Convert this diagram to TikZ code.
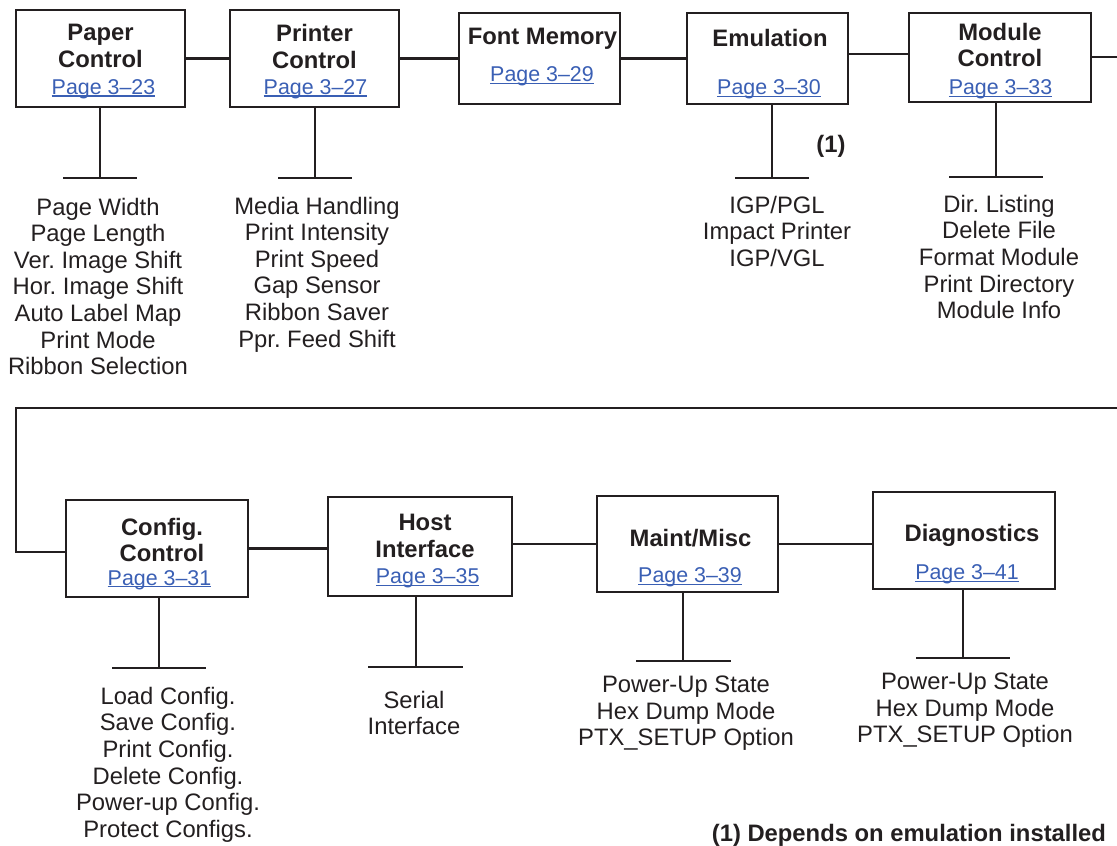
\documentclass[tikz,border=0pt]{standalone}
\usepackage{fontspec}
\setmainfont{Liberation Sans}
\frenchspacing
\definecolor{linkblue}{RGB}{58,95,180}
\definecolor{inkgray}{RGB}{35,31,32}
\newcommand{\pagelink}[1]{{\color{linkblue}\setbox0=\hbox{#1}\rlap{\rule[-1.2pt]{\wd0}{0.6pt}}\box0}}
\begin{document}
\begin{tikzpicture}[x=0.5pt, y=-0.5pt, line width=1.1pt, color=inkgray,
    menubox/.style={draw, rectangle, inner sep=0pt},
    boxtitle/.style={font=\bfseries\fontsize{11.9}{13.3}\selectfont, align=center, anchor=north, inner sep=0pt},
    pagelnk/.style={font=\fontsize{10.7}{12}\selectfont, anchor=base, inner sep=0pt},
    itemlist/.style={font=\fontsize{11.9}{13.3}\selectfont, align=center, anchor=north, inner sep=0pt}]
    \useasboundingbox (0,0) rectangle (1117,845);

    % top row
    \node[menubox, minimum width=84.5pt, minimum height=48.5pt] (paper) at (100.5,58.5) {};
    \node[boxtitle] (paperT) at (100.5,23.3) {Paper\\Control};
    \node[pagelnk] (paperP) at (103.5,94.3) {\pagelink{Page 3–23}};

    \node[menubox, minimum width=84.5pt, minimum height=48.5pt] (printer) at (314.5,58.5) {};
    \node[boxtitle] (printerT) at (314.5,23.3) {Printer\\Control};
    \node[pagelnk] (printerP) at (315.5,94.3) {\pagelink{Page 3–27}};

    \node[menubox, minimum width=80.5pt, minimum height=45.5pt] (fontmem) at (539.5,58.5) {};
    \node[boxtitle] (fontmemT) at (542.5,26.7) {Font Memory};
    \node[pagelnk] (fontmemP) at (542,81.7) {\pagelink{Page 3–29}};

    \node[menubox, minimum width=80.5pt, minimum height=45.5pt] (emul) at (767.5,58.5) {};
    \node[boxtitle] (emulT) at (770,27.7) {Emulation};
    \node[pagelnk] (emulP) at (769,95) {\pagelink{Page 3–30}};

    \node[menubox, minimum width=91pt, minimum height=44.5pt] (module) at (1000,57.5) {};
    \node[boxtitle] (moduleT) at (1000,21.7) {Module\\Control};
    \node[pagelnk] (moduleP) at (1000.5,95) {\pagelink{Page 3–33}};

    \draw (paper) -- (printer);
    \draw (printer) -- (fontmem);
    \draw (fontmem) -- (emul);
    \draw ([yshift=2.2pt]emul.east) -- ([yshift=2.2pt]emul.east -| module.west);
    \coordinate (topR) at (1117,57);
    \draw (module.east |- topR) -- (topR);

    % top row drops
    \coordinate (paperB) at (100,178);
    \coordinate (paperB1) at (63,178);
    \coordinate (paperB2) at (137,178);
    \draw (paper.south -| paperB) -- (paperB);
    \draw (paperB1) -- (paperB2);

    \coordinate (printerB) at (315,178);
    \coordinate (printerB1) at (278,178);
    \coordinate (printerB2) at (352,178);
    \draw (printer.south -| printerB) -- (printerB);
    \draw (printerB1) -- (printerB2);

    \coordinate (emulB) at (772,178);
    \coordinate (emulB1) at (735,178);
    \coordinate (emulB2) at (809,178);
    \draw (emul.south -| emulB) -- (emulB);
    \draw (emulB1) -- (emulB2);

    \coordinate (moduleB) at (996,177);
    \coordinate (moduleB1) at (949,177);
    \coordinate (moduleB2) at (1043,177);
    \draw (module.south -| moduleB) -- (moduleB);
    \draw (moduleB1) -- (moduleB2);

    \node[boxtitle, anchor=center] (emulN) at (831,146) {(1)};

    % top row lists
    \node[itemlist] (paperL) at (98,196.7) {Page Width\\Page Length\\Ver. Image Shift\\Hor. Image Shift\\Auto Label Map\\Print Mode\\Ribbon Selection};
    \node[itemlist] (printerL) at (317,195.7) {Media Handling\\Print Intensity\\Print Speed\\Gap Sensor\\Ribbon Saver\\Ppr. Feed Shift};
    \node[itemlist] (emulL) at (777,195) {IGP/PGL\\Impact Printer\\IGP/VGL};
    \node[itemlist] (moduleL) at (999,194) {Dir. Listing\\Delete File\\Format Module\\Print Directory\\Module Info};

    % bottom row
    \node[menubox, minimum width=91pt, minimum height=48.5pt] (config) at (157,548.5) {};
    \node[boxtitle] (configT) at (162,516.7) {Config.\\Control};
    \node[pagelnk] (configP) at (159.5,585) {\pagelink{Page 3–31}};

    \node[menubox, minimum width=92pt, minimum height=49.5pt] (host) at (420,546.5) {};
    \node[boxtitle] (hostT) at (425,513) {Host\\Interface};
    \node[pagelnk] (hostP) at (427.7,583.7) {\pagelink{Page 3–35}};

    \node[menubox, minimum width=90.5pt, minimum height=48pt] (maint) at (687.5,544) {};
    \node[boxtitle] (maintT) at (690.5,528) {Maint/Misc};
    \node[pagelnk] (maintP) at (690,582.7) {\pagelink{Page 3–39}};

    \node[menubox, minimum width=91pt, minimum height=48.5pt] (diag) at (964,540.5) {};
    \node[boxtitle] (diagT) at (972,523) {Diagnostics};
    \node[pagelnk] (diagP) at (967,579.3) {\pagelink{Page 3–41}};

    \coordinate (wrapR) at (1117,408);
    \coordinate (wrapL) at (16,408);
    \draw (wrapR) -- (wrapL) |- ([yshift=-1.7pt]config.west);
    \draw (config.east) -- (config.east -| host.west);
    \draw (maint.west -| host.east) -- (maint.west);
    \draw (maint.east) -- (maint.east -| diag.west);

    % bottom row drops
    \coordinate (configB) at (159,668);
    \coordinate (configB1) at (112,668);
    \coordinate (configB2) at (206,668);
    \draw (config.south -| configB) -- (configB);
    \draw (configB1) -- (configB2);

    \coordinate (hostB) at (416,667);
    \coordinate (hostB1) at (368,667);
    \coordinate (hostB2) at (463,667);
    \draw (host.south -| hostB) -- (hostB);
    \draw (hostB1) -- (hostB2);

    \coordinate (maintB) at (683,661);
    \coordinate (maintB1) at (636,661);
    \coordinate (maintB2) at (731,661);
    \draw (maint.south -| maintB) -- (maintB);
    \draw (maintB1) -- (maintB2);

    \coordinate (diagB) at (963,658);
    \coordinate (diagB1) at (916,658);
    \coordinate (diagB2) at (1010,658);
    \draw (diag.south -| diagB) -- (diagB);
    \draw (diagB1) -- (diagB2);

    % bottom row lists
    \node[itemlist] (configL) at (168,686) {Load Config.\\Save Config.\\Print Config.\\Delete Config.\\Power-up Config.\\Protect Configs.};
    \node[itemlist] (hostL) at (414,690) {Serial\\Interface};
    \node[itemlist] (maintL) at (686,675) {Power-Up State\\Hex Dump Mode\\PTX\_SETUP Option};
    \node[itemlist] (diagL) at (965,671.7) {Power-Up State\\Hex Dump Mode\\PTX\_SETUP Option};

    \node[boxtitle, anchor=base east] (note) at (1107,841) {(1) Depends on emulation installed};
\end{tikzpicture}
\end{document}
